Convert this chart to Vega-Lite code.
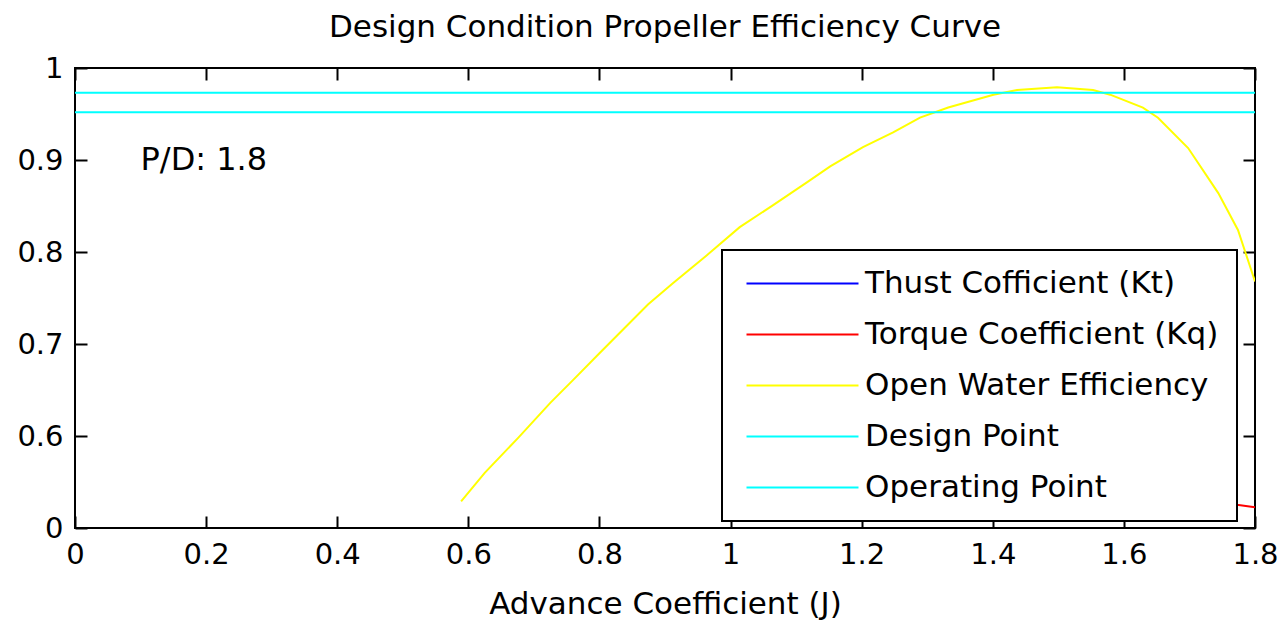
{
  "$schema": "https://vega.github.io/schema/vega-lite/v6.json",
  "width": 1180,
  "height": 460,
  "autosize": {"type": "none"},
  "padding": {"left": 75, "top": 68, "right": 23, "bottom": 95},
  "background": "white",
  "title": {"text": "Design Condition Propeller Efficiency Curve", "font": "DejaVu Sans", "fontSize": 31, "fontWeight": "normal", "color": "black", "offset": 10, "anchor": "middle"},
  "config": {
    "view": {"stroke": "black", "strokeWidth": 2},
    "font": "DejaVu Sans",
    "axis": {"grid": false, "domain": false, "ticks": true, "tickColor": "black", "tickWidth": 2, "tickSize": -12, "labelFlush": false, "labelFont": "DejaVu Sans", "labelFontSize": 29, "labelColor": "black", "titleFont": "DejaVu Sans", "titleFontSize": 31, "titleFontWeight": "normal", "titleColor": "black"},
    "legend": {"strokeWidth": 2}
  },
  "datasets": {
    "curves": [
      {"J": 0.589, "value": 0.529, "series": "Open Water Efficiency"},
      {"J": 0.625, "value": 0.560, "series": "Open Water Efficiency"},
      {"J": 0.676, "value": 0.598, "series": "Open Water Efficiency"},
      {"J": 0.725, "value": 0.636, "series": "Open Water Efficiency"},
      {"J": 0.760, "value": 0.661, "series": "Open Water Efficiency"},
      {"J": 0.800, "value": 0.690, "series": "Open Water Efficiency"},
      {"J": 0.874, "value": 0.743, "series": "Open Water Efficiency"},
      {"J": 0.912, "value": 0.766, "series": "Open Water Efficiency"},
      {"J": 0.963, "value": 0.796, "series": "Open Water Efficiency"},
      {"J": 1.014, "value": 0.827, "series": "Open Water Efficiency"},
      {"J": 1.065, "value": 0.851, "series": "Open Water Efficiency"},
      {"J": 1.117, "value": 0.876, "series": "Open Water Efficiency"},
      {"J": 1.152, "value": 0.893, "series": "Open Water Efficiency"},
      {"J": 1.202, "value": 0.914, "series": "Open Water Efficiency"},
      {"J": 1.248, "value": 0.930, "series": "Open Water Efficiency"},
      {"J": 1.289, "value": 0.946, "series": "Open Water Efficiency"},
      {"J": 1.332, "value": 0.957, "series": "Open Water Efficiency"},
      {"J": 1.401, "value": 0.971, "series": "Open Water Efficiency"},
      {"J": 1.437, "value": 0.976, "series": "Open Water Efficiency"},
      {"J": 1.498, "value": 0.979, "series": "Open Water Efficiency"},
      {"J": 1.553, "value": 0.976, "series": "Open Water Efficiency"},
      {"J": 1.579, "value": 0.971, "series": "Open Water Efficiency"},
      {"J": 1.629, "value": 0.957, "series": "Open Water Efficiency"},
      {"J": 1.652, "value": 0.946, "series": "Open Water Efficiency"},
      {"J": 1.698, "value": 0.913, "series": "Open Water Efficiency"},
      {"J": 1.744, "value": 0.864, "series": "Open Water Efficiency"},
      {"J": 1.774, "value": 0.824, "series": "Open Water Efficiency"},
      {"J": 1.800, "value": 0.768, "series": "Open Water Efficiency"},
      {"J": 1.75, "value": 0.5275, "series": "Torque Coefficient (Kq)"},
      {"J": 1.80, "value": 0.5225, "series": "Torque Coefficient (Kq)"},
      {"J": 0, "value": 0.973, "series": "Design Point"},
      {"J": 1.8, "value": 0.973, "series": "Design Point"},
      {"J": 0, "value": 0.952, "series": "Operating Point"},
      {"J": 1.8, "value": 0.952, "series": "Operating Point"}
    ],
    "annot": [{"J": 0.1, "v": 0.9, "label": "P/D: 1.8"}]
  },
  "layer": [
    {
      "data": {"name": "curves"},
      "mark": {"type": "line", "strokeWidth": 2, "clip": true},
      "encoding": {
        "x": {"field": "J", "type": "quantitative", "scale": {"domain": [0, 1.8], "nice": false, "zero": false},
              "axis": {"orient": "bottom", "values": [0, 0.2, 0.4, 0.6, 0.8, 1, 1.2, 1.4, 1.6, 1.8], "format": "~g", "title": "Advance Coefficient (J)", "labelPadding": 24, "titlePadding": 20}},
        "y": {"field": "value", "type": "quantitative", "scale": {"domain": [0.5, 1], "nice": false, "zero": false},
              "axis": {"orient": "left", "values": [0.5, 0.6, 0.7, 0.8, 0.9, 1], "format": "~g", "labelExpr": "datum.value < 0.55 ? '0' : datum.label", "title": null, "labelPadding": 24}},
        "color": {"field": "series", "type": "nominal",
                  "scale": {"domain": ["Thust Cofficient (Kt)", "Torque Coefficient (Kq)", "Open Water Efficiency", "Design Point", "Operating Point"],
                            "range": ["#0000FF", "#FF0000", "#FFFF00", "#00FFFF", "#00FFFF"]},
                  "legend": {"title": null, "orient": "none", "legendX": 647, "legendY": 182, "symbolType": "M-4,0H4", "symbolSize": 784, "symbolStrokeWidth": 2, "symbolOffset": 47, "labelOffset": 47, "padding": 18, "rowPadding": 19, "labelFont": "DejaVu Sans", "labelFontSize": 31, "labelColor": "black", "labelLimit": 0, "strokeColor": "black", "fillColor": "white"}}
      }
    },
    {
      "data": {"name": "annot"},
      "mark": {"type": "text", "align": "left", "baseline": "middle", "font": "DejaVu Sans", "fontSize": 32, "color": "black"},
      "encoding": {
        "x": {"field": "J", "type": "quantitative", "axis": {"orient": "top", "labels": false, "title": null, "values": [0, 0.2, 0.4, 0.6, 0.8, 1, 1.2, 1.4, 1.6, 1.8]}},
        "y": {"field": "v", "type": "quantitative", "axis": {"orient": "right", "labels": false, "title": null, "values": [0.5, 0.6, 0.7, 0.8, 0.9, 1]}},
        "text": {"field": "label"}
      }
    }
  ]
}
